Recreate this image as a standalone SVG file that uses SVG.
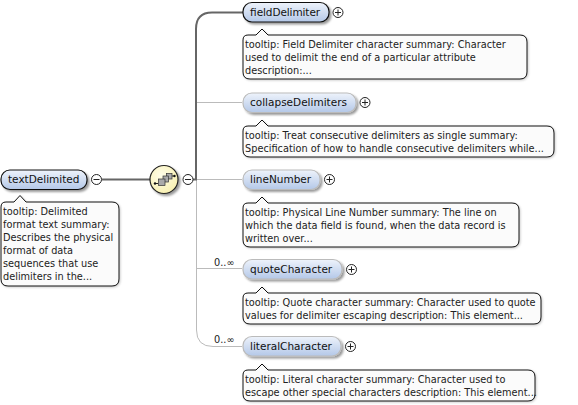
<svg xmlns="http://www.w3.org/2000/svg" width="578" height="405" viewBox="0 0 578 405">
<style>
text{font-family:"DejaVu Sans","Liberation Sans",sans-serif;font-size:9.75px;fill:#222}
.name{font-size:10.5px;fill:#111}
.n{filter:url(#sh);fill:url(#bl);stroke:#111;stroke-width:1.2}
.o{filter:url(#sh);fill:url(#bl);stroke:#bbb;stroke-width:1.2}
.t{filter:url(#sh2);fill:#fbfbfb;stroke:#111;stroke-width:1}
.b{fill:#fff;stroke:#222;stroke-width:1}
.g{fill:none;stroke:#222;stroke-width:1}
.th{fill:none;stroke:#bbb;stroke-width:1}
.tk{fill:none;stroke:#666;stroke-width:2}
</style>
<defs>
<linearGradient id="bl" x1="0" y1="0" x2="0" y2="1"><stop offset="0" stop-color="#eef3fb"/><stop offset="1" stop-color="#b4c8e8"/></linearGradient>
<radialGradient id="ye" cx="0.4" cy="0.35" r="0.7"><stop offset="0" stop-color="#fffde8"/><stop offset="1" stop-color="#f8f0b0"/></radialGradient>
<filter id="sh" x="-20%" y="-30%" width="140%" height="170%"><feDropShadow dx="2" dy="2" stdDeviation="1.3" flood-color="#000" flood-opacity="0.4"/></filter>
<filter id="sh2" x="-5%" y="-10%" width="110%" height="125%"><feDropShadow dx="1" dy="1" stdDeviation="0.8" flood-color="#000" flood-opacity="0.2"/></filter>
<g id="plus"><circle class="b" r="5"/><path class="g" d="M-3 0H3M0-3V3"/></g>
<g id="minus"><circle class="b" r="5"/><path class="g" d="M-3 0H3"/></g>
</defs>
<g id="connectors">
<path class="th" d="M196.500 179.500V330Q196.500 346.500 213 346.500H242M196.500 102.500H242M196.500 179.500H242M196.500 268.500H242"/>
<path class="tk" d="M102 179.500H152M193 179.500H196V29Q196 12.500 212 12.500H243"/>
</g>
<g id="textDelimited">
<rect class="n" x="1" y="170" width="86" height="19.500" rx="9"/>
<text class="name" x="8" y="183">textDelimited</text>
<use href="#minus" x="96.500" y="179.500"/>
<path class="t" d="M6 202H14L20 195.500L26 202H112Q119 202 119 209V279Q119 286 112 286H8Q1 286 1 279V207Q1 202 6 202Z"/>
<text x="3" y="215">tooltip: Delimited</text><text x="3" y="228">format text summary:</text><text x="3" y="241">Describes the physical</text><text x="3" y="254">format of data</text><text x="3" y="267">sequences that use</text><text x="3" y="280">delimiters in the...</text>
</g>
<g id="sequence">
<circle cx="164" cy="179.500" r="14" fill="url(#ye)" stroke="#222" stroke-width="1.2" filter="url(#sh)"/>
<path d="M155 183.500H158M170 176H174" fill="none" stroke="#222" stroke-width="1"/>
<circle cx="155" cy="183.500" r="1.200" fill="#111"/><circle cx="174.500" cy="176" r="1.200" fill="#111"/>
<rect x="166.500" y="173.500" width="5.500" height="5.500" fill="#aaa" stroke="#333" stroke-width=".7"/>
<rect x="163" y="176" width="5.500" height="6" fill="#aaa" stroke="#333" stroke-width=".7"/>
<rect x="158.500" y="179" width="6.500" height="6.500" fill="#aaa" stroke="#333" stroke-width=".7"/>
<use href="#minus" x="188" y="179.500"/>
</g>
<g id="fieldDelimiter">
<rect class="n" x="243" y="2.500" width="86" height="19.500" rx="9"/>
<text class="name" x="250" y="16" textLength="70">fieldDelimiter</text>
<use href="#plus" x="338" y="12.500"/>
<path class="t" d="M248 35H256L262 29L268 35H520Q527 35 527 42V72Q527 79 520 79H250Q243 79 243 72V40Q243 35 248 35Z"/>
<text x="245" y="48">tooltip: Field Delimiter character summary: Character</text><text x="245" y="61">used to delimit the end of a particular attribute</text><text x="245" y="74">description:...</text>
</g>
<g id="collapseDelimiters">
<rect class="o" x="243" y="93" width="113" height="19.500" rx="9"/>
<text class="name" x="250" y="106">collapseDelimiters</text>
<use href="#plus" x="365" y="102.500"/>
<path class="t" d="M248 126H256L262 120L268 126H547Q554 126 554 133V150Q554 157 547 157H250Q243 157 243 150V131Q243 126 248 126Z"/>
<text x="245" y="139">tooltip: Treat consecutive delimiters as single summary:</text><text x="245" y="152">Specification of how to handle consecutive delimiters while...</text>
</g>
<g id="lineNumber">
<rect class="o" x="243" y="170" width="77" height="19.500" rx="9"/>
<text class="name" x="250" y="183">lineNumber</text>
<use href="#plus" x="329.500" y="179.500"/>
<path class="t" d="M248 203H256L262 197L268 203H512Q519 203 519 210V240Q519 247 512 247H250Q243 247 243 240V208Q243 203 248 203Z"/>
<text x="245" y="216">tooltip: Physical Line Number summary: The line on</text><text x="245" y="229">which the data field is found, when the data record is</text><text x="245" y="242">written over...</text>
</g>
<g id="quoteCharacter">
<text x="214" y="266">0..∞</text>
<rect class="o" x="243" y="259.500" width="99" height="19.500" rx="9"/>
<text class="name" x="250" y="273">quoteCharacter</text>
<use href="#plus" x="351.500" y="269.500"/>
<path class="t" d="M248 293H256L262 287L268 293H534Q541 293 541 300V317Q541 324 534 324H250Q243 324 243 317V298Q243 293 248 293Z"/>
<text x="245" y="306">tooltip: Quote character summary: Character used to quote</text><text x="245" y="319">values for delimiter escaping description: This element...</text>
</g>
<g id="literalCharacter">
<text x="214" y="343">0..∞</text>
<rect class="o" x="243" y="336.500" width="98" height="19.500" rx="9"/>
<text class="name" x="250" y="350">literalCharacter</text>
<use href="#plus" x="350.500" y="346.500"/>
<path class="t" d="M248 370H256L262 364L268 370H528Q535 370 535 377V394Q535 401 528 401H250Q243 401 243 394V375Q243 370 248 370Z"/>
<text x="245" y="383">tooltip: Literal character summary: Character used to</text><text x="245" y="396">escape other special characters description: This element...</text>
</g>
</svg>
